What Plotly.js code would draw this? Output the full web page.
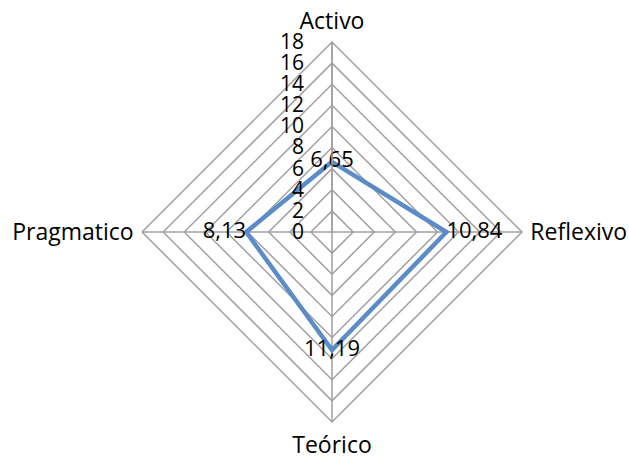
<!DOCTYPE html>
<html>
<head>
<meta charset="utf-8">
<script src="https://cdn.plot.ly/plotly-3.0.1.min.js"></script>
<style>html,body{margin:0;padding:0;background:#fff}#chart{width:629px;height:460px}</style>
</head>
<body>
<div id="chart"></div>
<script>
const categories = ["Activo", "Reflexivo", "Teórico", "Pragmatico"];
const values = [6.65, 10.84, 11.19, 8.13];
const valueLabels = ["6,65", "10,84", "11,19", "8,13"];
const radialTicks = [0, 2, 4, 6, 8, 10, 12, 14, 16, 18];

const W = 629, H = 460;
const cx = 332, cy = 232, R = 190;
const FONT = "'Open Sans', sans-serif";

const trace = {
  type: "scatterpolar",
  r: values.concat([values[0]]),
  theta: categories.concat([categories[0]]),
  mode: "lines+text",
  text: valueLabels.concat([""]),
  textposition: ["middle center", "middle right", "middle center", "middle left", "middle center"],
  textfont: {family: FONT, size: 22, color: "#000"},
  line: {color: "#5b8cc8", width: 4.5},
  hoverinfo: "skip",
  cliponaxis: false
};

const layout = {
  width: W, height: H,
  margin: {l: 0, r: 0, t: 0, b: 0},
  paper_bgcolor: "#fff",
  showlegend: false,
  font: {family: FONT, size: 22, color: "#000"},
  polar: {
    domain: {x: [(cx - R) / W, (cx + R) / W], y: [1 - (cy + R) / H, 1 - (cy - R) / H]},
    gridshape: "linear",
    bgcolor: "#fff",
    radialaxis: {
      range: [0, 18],
      tickvals: radialTicks,
      ticktext: radialTicks.map(String),
      angle: 90,
      side: "counterclockwise",
      tickangle: 90,
      showline: true,
      linecolor: "#a0a0a0",
      linewidth: 1.5,
      gridcolor: "#a0a0a0",
      gridwidth: 1.5,
      ticks: "outside",
      ticklen: 20,
      tickcolor: "rgba(0,0,0,0)",
      tickfont: {family: FONT, size: 21, color: "#000"}
    },
    angularaxis: {
      direction: "clockwise",
      rotation: 90,
      showline: true,
      linecolor: "#a0a0a0",
      linewidth: 1.5,
      gridcolor: "#a0a0a0",
      gridwidth: 1.5,
      ticks: "outside",
      ticklen: 3,
      tickcolor: "rgba(0,0,0,0)",
      tickfont: {family: FONT, size: 23, color: "#000"}
    }
  }
};

Plotly.newPlot("chart", [trace], layout, {displayModeBar: false, staticPlot: true});
</script>
</body>
</html>
